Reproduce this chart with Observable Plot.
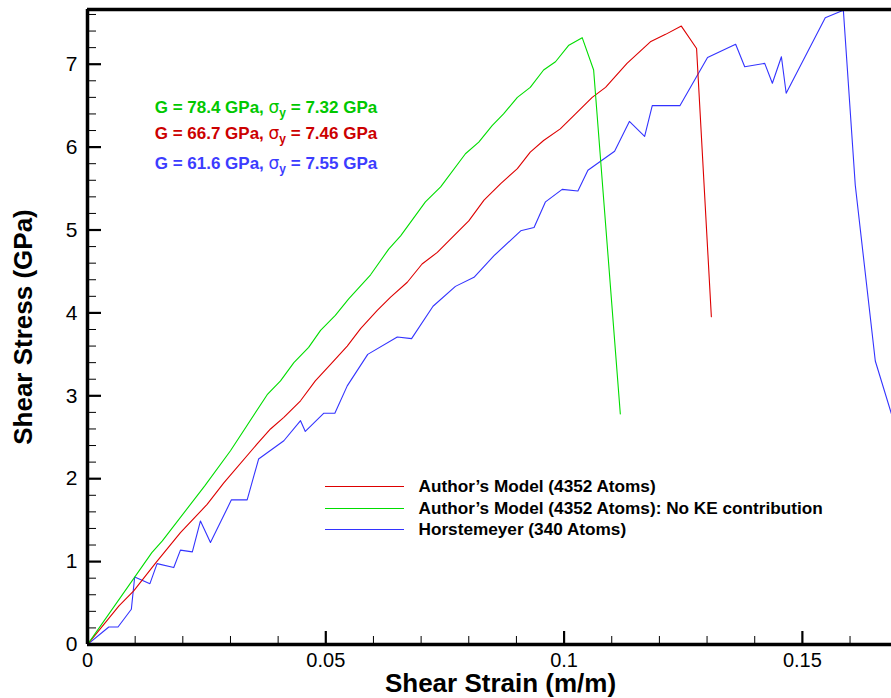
<!DOCTYPE html>
<html>
<head>
<meta charset="utf-8">
<script src="https://cdn.jsdelivr.net/npm/d3@7"></script>
<script src="https://cdn.jsdelivr.net/npm/@observablehq/plot@0.6"></script>
<style>
  html, body { margin: 0; padding: 0; background: #fff; }
  #wrap { position: relative; width: 891px; height: 698px; }
</style>
</head>
<body>
<div id="wrap"></div>
<script>
// ---- data ----
const greenStrain = [0, 0.0135, 0.0157, 0.0246, 0.030, 0.0377, 0.0405, 0.0433, 0.0464, 0.0489, 0.052, 0.0548, 0.0594, 0.0632, 0.0657, 0.0709, 0.0741, 0.0793, 0.0821, 0.0849, 0.0873, 0.0902, 0.0929, 0.0957, 0.0982, 0.101, 0.1038, 0.1062, 0.1118];
const greenStress = [0, 1.109, 1.25, 1.914, 2.337, 3.013, 3.18, 3.40, 3.585, 3.79, 3.97, 4.17, 4.46, 4.77, 4.93, 5.34, 5.52, 5.92, 6.06, 6.26, 6.40, 6.60, 6.72, 6.93, 7.03, 7.23, 7.32, 6.93, 2.78];

const redStrain = [0, 0.0066, 0.0097, 0.0144, 0.0195, 0.0251, 0.0286, 0.0356, 0.0384, 0.0412, 0.0447, 0.0478, 0.051, 0.0545, 0.0573, 0.0608, 0.0636, 0.0671, 0.0702, 0.0734, 0.0758, 0.080, 0.0832, 0.0867, 0.0902, 0.0929, 0.0957, 0.0992, 0.1024, 0.1059, 0.1087, 0.1132, 0.1181, 0.1213, 0.1246, 0.1278, 0.1309];
const redStress = [0, 0.465, 0.646, 0.99, 1.35, 1.69, 1.95, 2.42, 2.60, 2.74, 2.94, 3.18, 3.38, 3.60, 3.81, 4.03, 4.19, 4.37, 4.59, 4.73, 4.87, 5.11, 5.36, 5.56, 5.74, 5.94, 6.08, 6.22, 6.40, 6.60, 6.72, 7.01, 7.27, 7.36, 7.46, 7.19, 3.955];

const blueStrain = [0, 0.00447, 0.0064, 0.0092, 0.0099, 0.0131, 0.0146, 0.0181, 0.0195, 0.022, 0.0237, 0.0258, 0.0302, 0.0335, 0.0359, 0.0412, 0.0447, 0.0457, 0.0496, 0.0519, 0.0545, 0.0588, 0.065, 0.068, 0.0725, 0.0772, 0.0811, 0.0853, 0.0909, 0.0937, 0.0961, 0.0996, 0.1029, 0.105, 0.1106, 0.1137, 0.1169, 0.1185, 0.1243, 0.1301, 0.136, 0.1379, 0.1421, 0.1437, 0.1456, 0.1466, 0.1548, 0.1586, 0.1611, 0.1653, 0.1687];
const blueStress = [0, 0.211, 0.211, 0.425, 0.815, 0.734, 0.976, 0.928, 1.138, 1.117, 1.49, 1.23, 1.745, 1.745, 2.237, 2.458, 2.70, 2.57, 2.79, 2.79, 3.12, 3.50, 3.71, 3.69, 4.08, 4.32, 4.43, 4.69, 4.99, 5.03, 5.34, 5.49, 5.47, 5.72, 5.95, 6.31, 6.13, 6.50, 6.50, 7.08, 7.24, 6.97, 7.01, 6.77, 7.09, 6.65, 7.56, 7.65, 5.54, 3.42, 2.78];

const seriesNames = ["Author’s Model (4352 Atoms)", "Author’s Model (4352 Atoms): No KE contribution", "Horstemeyer (340 Atoms)"];
const lineColors = ["#dd0000", "#00dd00", "#3333ff"];
const annotTexts = ["G = 78.4 GPa, σy = 7.32 GPa", "G = 66.7 GPa, σy = 7.46 GPa", "G = 61.6 GPa, σy = 7.55 GPa"];
const annotColors = ["#00c800", "#cc0000", "#3c3cff"];
const annotX = [0.0141, 0.0141, 0.0141];
const annotY = [6.48, 6.16, 5.80];

const xMajor = [0, 0.05, 0.1, 0.15];
const xMinor = d3.range(0, 17).map(i => i / 100).filter(v => !xMajor.some(m => Math.abs(m - v) < 1e-9));
const yMajor = [0, 1, 2, 3, 4, 5, 6, 7];
const yMinor = d3.range(0, 39).map(i => i / 5).filter(v => v % 1 !== 0 && v <= 7.6);
const xDomain = [0, 0.1687];
const yDomain = [0, 7.66];

// ---- build tables ----
function mk(xs, ys, s) { return xs.map((x, i) => ({x, y: ys[i], s})); }
const rows = [
  ...mk(redStrain, redStress, 0),
  ...mk(greenStrain, greenStress, 1),
  ...mk(blueStrain, blueStress, 2)
];
const annots = annotTexts.map((t, i) => ({t, x: annotX[i], y: annotY[i], c: annotColors[i]}));

const W = 891, H = 698, mL = 87, mR = 0, mT = 9, mB = 54;
const pw = W - mL - mR, ph = H - mT - mB;

// legend layout (pixel positions converted to the data space)
const px2x = px => (px - mL) / pw * xDomain[1];
const py2y = py => (H - mB - py) / ph * yDomain[1];
const legendRowsPx = [486, 508, 529];
const legend = seriesNames.map((n, i) => ({n, c: lineColors[i], y: py2y(legendRowsPx[i]), x1: px2x(325), x2: px2x(404), xt: px2x(418)}));

const plot = Plot.plot({
  width: W, height: H,
  marginLeft: mL, marginRight: mR, marginTop: mT, marginBottom: mB,
  style: {fontFamily: "'Liberation Sans', Arial, sans-serif", background: "#fff", color: "#000"},
  x: {domain: xDomain},
  y: {domain: yDomain},
  marks: [
    Plot.line(rows.filter(d => d.s === 2), {x: "x", y: "y", stroke: lineColors[2], strokeWidth: 1.1, clip: true}),
    Plot.line(rows.filter(d => d.s === 0), {x: "x", y: "y", stroke: lineColors[0], strokeWidth: 1.1, clip: true}),
    Plot.line(rows.filter(d => d.s === 1), {x: "x", y: "y", stroke: lineColors[1], strokeWidth: 1.1, clip: true}),
    Plot.tickX(xMinor, {x: d => d, insetTop: ph - 8, stroke: "#000", strokeWidth: 1}),
    Plot.tickX(xMajor, {x: d => d, insetTop: ph - 13, stroke: "#000", strokeWidth: 2.2}),
    Plot.tickY(yMinor, {y: d => d, insetRight: pw - 9, stroke: "#000", strokeWidth: 1}),
    Plot.tickY(yMajor, {y: d => d, insetRight: pw - 14, stroke: "#000", strokeWidth: 2.2}),
    Plot.ruleY([yDomain[1]], {stroke: "#000", strokeWidth: 3.5}),
    Plot.ruleY([0], {stroke: "#000", strokeWidth: 3.5}),
    Plot.ruleX([0], {stroke: "#000", strokeWidth: 3.5}),
    Plot.axisX(xMajor, {tickSize: 0, tickPadding: 8, fontSize: 20, tickFormat: d => String(d), label: null, fill: "#000"}),
    Plot.axisY(yMajor, {tickSize: 0, tickPadding: 10, fontSize: 21, tickFormat: d => String(d), label: null, fill: "#000"}),
    Plot.text(["Shear Strain (m/m)"], {frameAnchor: "bottom", dx: 11, dy: 47, fontSize: 26, fontWeight: "bold", fill: "#000"}),
    Plot.text(["Shear Stress (GPa)"], {frameAnchor: "left", textAnchor: "middle", dx: -64, dy: 0, rotate: -90, fontSize: 26, fontWeight: "bold", fill: "#000"}),
    Plot.text(annots, {x: "x", y: "y", text: "t", fill: "c", textAnchor: "start", fontSize: 17, fontWeight: "bold"}),
    Plot.ruleY(legend, {y: "y", x1: "x1", x2: "x2", stroke: "c", strokeWidth: 1.1}),
    Plot.text(legend, {x: "xt", y: "y", text: "n", textAnchor: "start", fontSize: 17.2, fontWeight: "bold", fill: "#000"})
  ]
});

// subscript sigma_y
plot.querySelectorAll("text").forEach(t => {
  const s = t.textContent;
  const i = s.indexOf("σy");
  if (i < 0) return;
  t.textContent = "";
  const ns = "http://www.w3.org/2000/svg";
  const add = (txt, attrs) => { const e = document.createElementNS(ns, "tspan"); e.textContent = txt; for (const k in attrs) e.setAttribute(k, attrs[k]); t.appendChild(e); };
  add(s.slice(0, i), {});
  add("σ", {"font-weight": "normal", "font-family": "'DejaVu Sans', sans-serif", "font-size": "17"});
  add("y", {"font-size": "12", "dy": "4"});
  add(s.slice(i + 2), {"dy": "-4"});
});

const wrap = document.getElementById("wrap");
wrap.appendChild(plot);
plot.style.display = "block";
</script>
</body>
</html>
